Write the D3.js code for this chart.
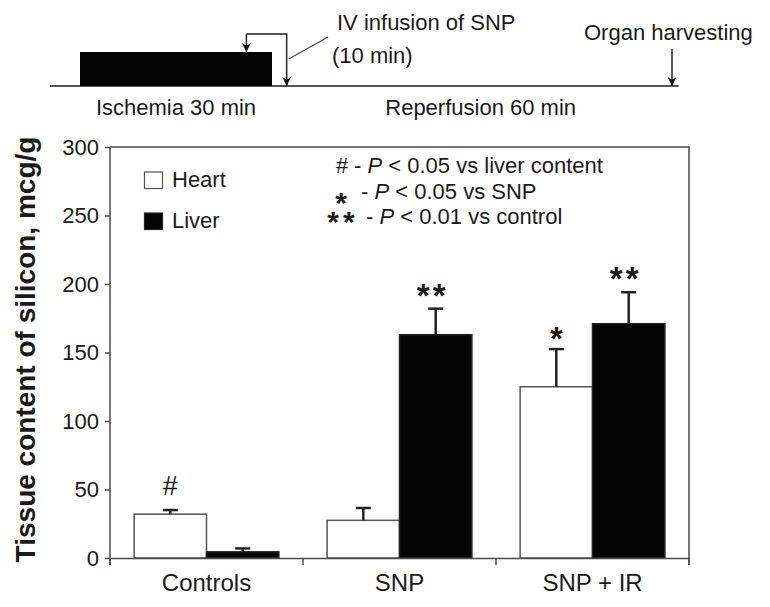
<!DOCTYPE html>
<html>
<head>
<meta charset="utf-8">
<script src="https://cdn.jsdelivr.net/npm/d3@7"></script>
<style>
  body { margin: 0; background: #fff; }
  text { font-family: "Liberation Sans", Arial, sans-serif; fill: #1a1a1a; }
</style>
</head>
<body>
<div id="chart-container"></div>
<script>
// DATA
const GROUPS = ["Controls", "SNP", "SNP + IR"];
const TISSUES = ["Heart", "Liver"];
const HEART_VALUES = [32, 27.5, 125];
const HEART_ERRORS = [3, 9, 27.5];
const LIVER_VALUES = [4.5, 163, 171];
const LIVER_ERRORS = [2.5, 19, 23];
const Y_TICKS = [0, 50, 100, 150, 200, 250, 300];
// significance marks above each bar (group, tissue, mark)
const MARKS = [
  { group: "Controls", tissue: "Heart", mark: "#" },
  { group: "SNP", tissue: "Liver", mark: "**" },
  { group: "SNP + IR", tissue: "Heart", mark: "*" },
  { group: "SNP + IR", tissue: "Liver", mark: "**" }
];
const STATS_NOTES = [
  { mark: "#", text: " < 0.05 vs liver content" },
  { mark: "*", text: " < 0.05 vs SNP" },
  { mark: "**", text: " < 0.01 vs control" }
];

// timeline (minutes)
const TIME_BREAKS = [0, 30, 90];
const ISCHEMIA = [0, 30];
const INFUSION = [26, 32.2];
const HARVEST = 90;

const WIDTH = 770;
const HEIGHT = 607;
const MARGIN = { top: 147, right: 81, bottom: 49, left: 110 };
const AXIS_COLOR = "#4a4a4a";

const SVG_SELECTION = d3.select("#chart-container").append("svg")
  .attr("width", WIDTH)
  .attr("height", HEIGHT);

// ARROW MARKER
SVG_SELECTION.append("defs").append("marker")
  .attr("id", "arrow")
  .attr("viewBox", "0 0 10 10")
  .attr("refX", 10)
  .attr("refY", 5)
  .attr("markerUnits", "userSpaceOnUse")
  .attr("markerWidth", 11)
  .attr("markerHeight", 9)
  .attr("orient", "auto")
  .append("path")
  .attr("d", "M0,0 L10,5 L0,10 L3,5 z")
  .attr("fill", "#111");

// # --------------------------------------
// # TIMELINE
// # --------------------------------------
const X_TIME = d3.scaleLinear()
  .domain(TIME_BREAKS)
  .range([80, 272, 672]);
const TIME_LINE_Y = 86;
const TIMELINE = SVG_SELECTION.append("g").attr("id", "timeline");

TIMELINE.append("line")
  .attr("x1", X_TIME(-4.7))
  .attr("x2", X_TIME(91))
  .attr("y1", TIME_LINE_Y)
  .attr("y2", TIME_LINE_Y)
  .attr("stroke", "#555")
  .attr("stroke-width", 2);

TIMELINE.append("rect")
  .attr("x", X_TIME(ISCHEMIA[0]))
  .attr("y", TIME_LINE_Y - 34)
  .attr("width", X_TIME(ISCHEMIA[1]) - X_TIME(ISCHEMIA[0]))
  .attr("height", 34)
  .attr("fill", "#050505");

// infusion bracket
TIMELINE.append("path")
  .attr("d", `M${X_TIME(INFUSION[0])},34 V${TIME_LINE_Y - 34}`)
  .attr("fill", "none")
  .attr("stroke", "#222")
  .attr("stroke-width", 1.5)
  .attr("marker-end", "url(#arrow)");
TIMELINE.append("path")
  .attr("d", `M${X_TIME(INFUSION[0])},34 H${X_TIME(INFUSION[1])} V${TIME_LINE_Y}`)
  .attr("fill", "none")
  .attr("stroke", "#222")
  .attr("stroke-width", 1.5)
  .attr("marker-end", "url(#arrow)");
TIMELINE.append("line")
  .attr("x1", X_TIME(INFUSION[1]) + 2)
  .attr("y1", 59)
  .attr("x2", 328)
  .attr("y2", 37)
  .attr("stroke", "#444")
  .attr("stroke-width", 1.2);

// organ harvesting arrow
TIMELINE.append("path")
  .attr("d", `M${X_TIME(HARVEST)},49 V${TIME_LINE_Y}`)
  .attr("fill", "none")
  .attr("stroke", "#222")
  .attr("stroke-width", 1.5)
  .attr("marker-end", "url(#arrow)");

TIMELINE.append("text")
  .attr("x", 337).attr("y", 30)
  .style("font-size", "22px")
  .text("IV infusion of SNP");
TIMELINE.append("text")
  .attr("x", 332).attr("y", 63)
  .style("font-size", "22px")
  .text("(10 min)");
TIMELINE.append("text")
  .attr("x", 584).attr("y", 40)
  .style("font-size", "22px")
  .text("Organ harvesting");
TIMELINE.append("text")
  .attr("x", X_TIME(15)).attr("y", 115)
  .attr("text-anchor", "middle")
  .style("font-size", "22px")
  .text("Ischemia 30 min");
TIMELINE.append("text")
  .attr("x", X_TIME(61.3)).attr("y", 115)
  .attr("text-anchor", "middle")
  .style("font-size", "22px")
  .text("Reperfusion 60 min");

// # --------------------------------------
// # BAR CHART
// # --------------------------------------
const X = d3.scaleBand()
  .domain(GROUPS)
  .range([MARGIN.left, WIDTH - MARGIN.right])
  .padding(0);
const X_SUB = d3.scaleBand()
  .domain(TISSUES)
  .range([0, X.bandwidth()])
  .paddingInner(0)
  .paddingOuter(1 / 3);
const Y = d3.scaleLinear()
  .domain([0, 300])
  .range([HEIGHT - MARGIN.bottom, MARGIN.top]);

const SERIES = {
  Heart: { values: HEART_VALUES, errors: HEART_ERRORS, fill: "#ffffff", stroke: "#555" },
  Liver: { values: LIVER_VALUES, errors: LIVER_ERRORS, fill: "#050505", stroke: "#222" }
};

const BAR_DATA = [];
GROUPS.forEach((g, i) => {
  TISSUES.forEach(t => {
    BAR_DATA.push({
      group: g,
      tissue: t,
      value: SERIES[t].values[i],
      error: SERIES[t].errors[i]
    });
  });
});

const CHART = SVG_SELECTION.append("g").attr("id", "chart");

// frame (top and right)
CHART.append("path")
  .attr("d", `M${X.range()[0]},${Y(300)} H${X.range()[1]} V${Y(0) + 7}`)
  .attr("fill", "none")
  .attr("stroke", AXIS_COLOR)
  .attr("stroke-width", 1.5);

// bars
CHART.selectAll("rect.bar")
  .data(BAR_DATA)
  .enter()
  .append("rect")
  .attr("class", "bar")
  .attr("x", d => X(d.group) + X_SUB(d.tissue))
  .attr("y", d => Y(d.value))
  .attr("width", X_SUB.bandwidth())
  .attr("height", d => Y(0) - Y(d.value))
  .attr("fill", d => SERIES[d.tissue].fill)
  .attr("stroke", d => SERIES[d.tissue].stroke)
  .attr("stroke-width", 1.5);

// error bars (upper only)
const ERR = CHART.selectAll("g.err")
  .data(BAR_DATA)
  .enter()
  .append("g")
  .attr("class", "err")
  .attr("stroke", "#222")
  .attr("stroke-width", 2.5);
ERR.append("line")
  .attr("x1", d => X(d.group) + X_SUB(d.tissue) + X_SUB.bandwidth() / 2)
  .attr("x2", d => X(d.group) + X_SUB(d.tissue) + X_SUB.bandwidth() / 2)
  .attr("y1", d => Y(d.value))
  .attr("y2", d => Y(d.value + d.error));
ERR.append("line")
  .attr("x1", d => X(d.group) + X_SUB(d.tissue) + X_SUB.bandwidth() / 2 - 7.5)
  .attr("x2", d => X(d.group) + X_SUB(d.tissue) + X_SUB.bandwidth() / 2 + 7.5)
  .attr("y1", d => Y(d.value + d.error))
  .attr("y2", d => Y(d.value + d.error));

// significance marks
function barOf(m) {
  return BAR_DATA.find(d => d.group === m.group && d.tissue === m.tissue);
}
CHART.selectAll("text.mark")
  .data(MARKS)
  .enter()
  .append("text")
  .attr("class", "mark")
  .attr("text-anchor", "middle")
  .attr("x", m => X(m.group) + X_SUB(m.tissue) + X_SUB.bandwidth() / 2 + (m.mark === "**" ? -3 : 0))
  .attr("y", m => {
    let b = barOf(m);
    return m.mark === "#" ? Y(b.value + b.error) - 15 : Y(b.value + b.error) + (m.mark === "**" ? -2 : 1);
  })
  .style("font-size", m => m.mark === "#" ? "27px" : "33px")
  .style("font-weight", m => m.mark === "#" ? "normal" : "bold")
  .style("letter-spacing", m => m.mark === "**" ? "3px" : null)
  .text(m => m.mark);

// Y AXIS
const Y_AXIS = CHART.append("g")
  .attr("transform", `translate(${MARGIN.left},0)`)
  .call(d3.axisLeft(Y).tickValues(Y_TICKS).tickSize(5).tickSizeOuter(0).tickPadding(6));
Y_AXIS.select(".domain").remove();
Y_AXIS.selectAll(".tick line").attr("stroke", AXIS_COLOR).attr("stroke-width", 1.5);
Y_AXIS.selectAll(".tick text")
  .style("font-size", "22px")
  .style("font-family", "\"Liberation Sans\", Arial, sans-serif")
  .attr("fill", "#1a1a1a");
CHART.append("line")
  .attr("x1", MARGIN.left).attr("x2", MARGIN.left)
  .attr("y1", Y(300)).attr("y2", Y(0) + 7)
  .attr("stroke", AXIS_COLOR)
  .attr("stroke-width", 1.5);

// X AXIS
const X_AXIS = CHART.append("g")
  .attr("transform", `translate(0,${Y(0)})`)
  .call(d3.axisBottom(X).tickSize(0).tickPadding(16));
X_AXIS.select(".domain").attr("stroke", AXIS_COLOR).attr("stroke-width", 1.5);
X_AXIS.selectAll(".tick text")
  .style("font-size", "24px")
  .style("font-family", "\"Liberation Sans\", Arial, sans-serif")
  .attr("fill", "#1a1a1a");
X_AXIS.selectAll("line.edge")
  .data(GROUPS.map(g => X(g)).concat([X.range()[1]]))
  .enter()
  .append("line")
  .attr("class", "edge")
  .attr("x1", d => d).attr("x2", d => d)
  .attr("y1", 0).attr("y2", 7)
  .attr("stroke", AXIS_COLOR)
  .attr("stroke-width", 1.5);

// Y TITLE
CHART.append("text")
  .attr("transform", `translate(35,${(Y(300) + Y(0)) / 2 - 3}) rotate(-90)`)
  .attr("text-anchor", "middle")
  .style("font-size", "28px")
  .style("font-weight", "bold")
  .text("Tissue content of silicon, mcg/g");

// LEGEND
const LEGEND = CHART.append("g").attr("id", "legend");
TISSUES.forEach((t, i) => {
  LEGEND.append("rect")
    .attr("x", 144.5)
    .attr("y", 172 + i * 41)
    .attr("width", 18)
    .attr("height", 16.5)
    .attr("fill", SERIES[t].fill)
    .attr("stroke", SERIES[t].stroke)
    .attr("stroke-width", 1.2);
  LEGEND.append("text")
    .attr("x", 172)
    .attr("y", 187 + i * 41)
    .style("font-size", "22px")
    .text(t);
});

// STATS NOTES
const NOTES = CHART.append("g").attr("id", "notes");
const NOTE_MARK_X = [342, 341, 343];
const NOTE_TEXT_X = [354, 361, 366];
const NOTE_MARK_DY = [0, 14, 8];
// star marks sit low, so they share one text element
const STAR_TEXT = NOTES.append("text")
  .attr("text-anchor", "middle")
  .style("font-size", "30px")
  .style("font-weight", "bold");
STATS_NOTES.forEach((n, i) => {
  let baseline = 173 + i * 25.5;
  if (n.mark === "#") {
    NOTES.append("text")
      .attr("x", NOTE_MARK_X[i])
      .attr("y", baseline)
      .attr("text-anchor", "middle")
      .style("font-size", "22px")
      .text(n.mark);
  } else {
    STAR_TEXT.append("tspan")
      .attr("x", NOTE_MARK_X[i])
      .attr("y", baseline + NOTE_MARK_DY[i])
      .style("letter-spacing", n.mark === "**" ? "4px" : null)
      .text(n.mark);
  }
  let t = NOTES.append("text")
    .attr("x", NOTE_TEXT_X[i])
    .attr("y", baseline)
    .style("font-size", "22px");
  t.append("tspan").text("- ");
  t.append("tspan").style("font-style", "italic").text("P");
  t.append("tspan").text(n.text);
});
</script>
</body>
</html>
